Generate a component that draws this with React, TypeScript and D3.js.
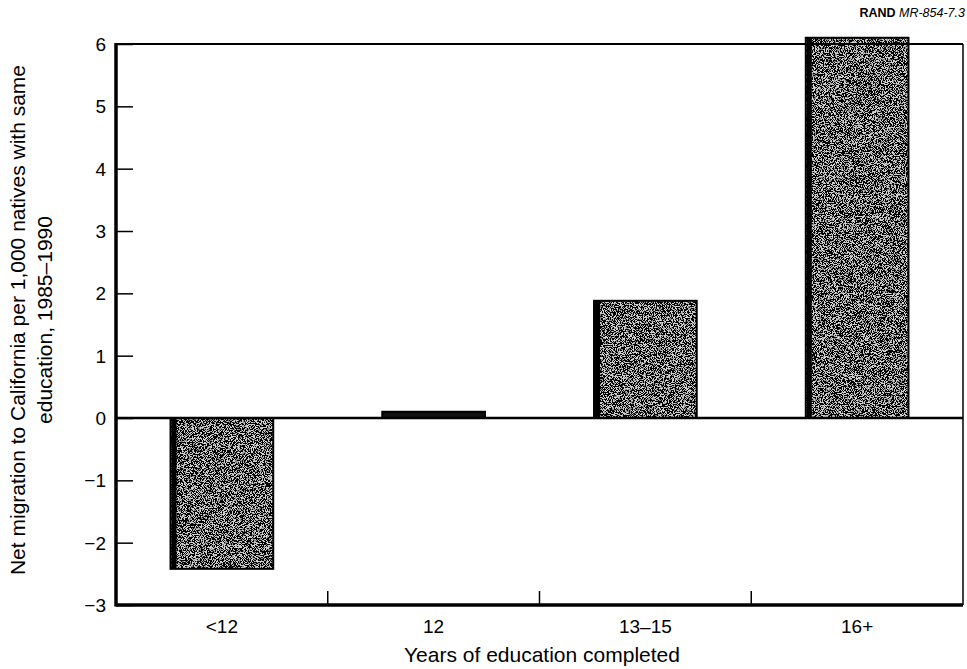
import React, { useEffect, useRef } from 'react';
import * as d3 from 'd3';

const categories = ['<12', '12', '13–15', '16+'];
const migrationValues = [-2.42, 0.1, 1.88, 6.1];
const yTickValues = [-3, -2, -1, 0, 1, 2, 3, 4, 5, 6];

const W = 967;
const H = 669;

const App = () => {
  const svgRef = useRef<SVGSVGElement>(null);

  useEffect(() => {
    const svg = d3.select(svgRef.current);
    svg.selectAll('*').remove();

    const left = 116;
    const right = 963;
    const top = 44;
    const bottom = 605;

    const x = d3.scaleBand().domain(categories).range([left, right]).paddingInner(0).paddingOuter(0);
    const y = d3.scaleLinear().domain([-3, 6]).range([bottom, top]);
    const barW = x.bandwidth() * 0.485;

    // grainy fill like the printed screen
    const defs = svg.append('defs');
    const filt = defs.append('filter').attr('id', 'grain').attr('x', 0).attr('y', 0).attr('width', 1).attr('height', 1);
    filt.append('feTurbulence').attr('type', 'fractalNoise').attr('baseFrequency', 1.1).attr('numOctaves', 2).attr('seed', 7).attr('result', 'noise');
    filt.append('feColorMatrix').attr('in', 'noise').attr('type', 'matrix')
      .attr('values', '0 0 0 0 0  0 0 0 0 0  0 0 0 0 0  7 0 0 0 -2.85')
      .attr('result', 'dots');
    filt.append('feComponentTransfer').attr('in', 'dots').attr('result', 'dots2')
      .append('feFuncA').attr('type', 'discrete').attr('tableValues', '0 0.6 1');
    filt.append('feFlood').attr('flood-color', '#cfcfcf').attr('result', 'bg');
    const merge = filt.append('feMerge');
    merge.append('feMergeNode').attr('in', 'bg');
    merge.append('feMergeNode').attr('in', 'dots2');

    const bars = svg.append('g');
    categories.forEach((c, i) => {
      const v = migrationValues[i];
      const x0 = (x(c) as number) + (x.bandwidth() - barW) / 2;
      const y0 = Math.min(y(v), y(0));
      const h = Math.abs(y(v) - y(0));
      const g = bars.append('g');
      if (h > 8) {
        g.append('rect')
          .attr('x', x0).attr('y', y0).attr('width', barW).attr('height', h)
          .attr('fill', '#000')
          .attr('filter', 'url(#grain)');
        g.append('rect')
          .attr('x', x0 + 1).attr('y', y0).attr('width', 5).attr('height', h)
          .attr('fill', '#000');
      } else {
        g.append('rect')
          .attr('x', x0).attr('y', y0).attr('width', barW).attr('height', h)
          .attr('fill', '#111');
      }
      g.append('rect')
        .attr('x', x0).attr('y', y0).attr('width', barW).attr('height', h)
        .attr('fill', 'none').attr('stroke', '#000').attr('stroke-width', 2);
    });

    // frame
    svg.append('line').attr('x1', left).attr('x2', right).attr('y1', top).attr('y2', top)
      .attr('stroke', '#000').attr('stroke-width', 2);
    svg.append('line').attr('x1', right).attr('x2', right).attr('y1', top).attr('y2', bottom)
      .attr('stroke', '#000').attr('stroke-width', 1.5);
    svg.append('line').attr('x1', left).attr('x2', right).attr('y1', y(0)).attr('y2', y(0))
      .attr('stroke', '#000').attr('stroke-width', 2.5);

    // y axis, ticks pointing inward
    const yAxis = d3.axisRight(y).tickValues(yTickValues).tickSize(17).tickFormat(() => '');
    const ya = svg.append('g').attr('transform', `translate(${left},0)`).call(yAxis);
    ya.select('.domain').remove();
    ya.selectAll('line').attr('stroke', '#000').attr('stroke-width', 1.5);
    svg.append('line').attr('x1', left).attr('x2', left).attr('y1', top - 1).attr('y2', bottom + 1.5)
      .attr('stroke', '#000').attr('stroke-width', 3.5);

    svg.append('g').selectAll('text').data(yTickValues).enter().append('text')
      .attr('x', 106).attr('y', (d) => y(d)).attr('dy', '0.36em')
      .attr('text-anchor', 'end')
      .attr('font-size', 19)
      .text((d) => (d < 0 ? `−${Math.abs(d)}` : `${d}`));

    // x axis, separators between categories pointing up
    svg.append('line').attr('x1', left).attr('x2', right).attr('y1', bottom).attr('y2', bottom)
      .attr('stroke', '#000').attr('stroke-width', 3.5);
    svg.append('g').selectAll('line').data(categories.slice(1)).enter().append('line')
      .attr('x1', (d) => x(d) as number).attr('x2', (d) => x(d) as number)
      .attr('y1', bottom).attr('y2', bottom - 14)
      .attr('stroke', '#000').attr('stroke-width', 1.5);
    svg.append('g').selectAll('text').data(categories).enter().append('text')
      .attr('x', (d) => (x(d) as number) + x.bandwidth() / 2)
      .attr('y', 633)
      .attr('text-anchor', 'middle')
      .attr('font-size', 19)
      .text((d) => d);

    svg.append('text').attr('x', 542).attr('y', 662)
      .attr('text-anchor', 'middle').attr('font-size', 21)
      .text('Years of education completed');

    const yt = svg.append('text').attr('transform', 'translate(25,320) rotate(-90)')
      .attr('text-anchor', 'middle').attr('font-size', 21);
    yt.append('tspan').attr('x', 0).attr('y', 0).text('Net migration to California per 1,000 natives with same');
    yt.append('tspan').attr('x', 0).attr('y', 27).text('education, 1985–1990');

    const rand = svg.append('text').attr('x', 965).attr('y', 17).attr('text-anchor', 'end').attr('font-size', 12.5);
    rand.append('tspan').attr('font-weight', 'bold').text('RAND ');
    rand.append('tspan').attr('font-style', 'italic').text('MR-854-7.3');
  }, []);

  return (
    <div style={{ position: 'absolute', left: 0, top: 0 }}>
      <svg ref={svgRef} width={W} height={H} style={{ display: 'block', fontFamily: '"Liberation Sans", Arial, sans-serif', background: '#fff' }} />
    </div>
  );
};

export default App;
